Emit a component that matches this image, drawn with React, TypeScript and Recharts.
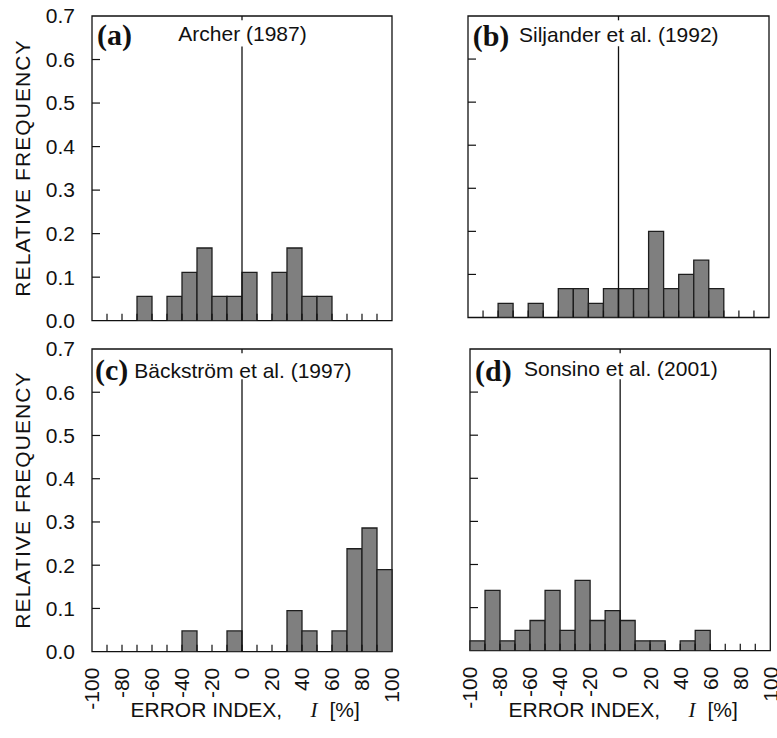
import { BarChart, Bar, XAxis, YAxis, ReferenceArea, ReferenceLine } from 'recharts'

// bin centres of the 10 % wide classes, -100 .. 100
const binCenters = [-95, -85, -75, -65, -55, -45, -35, -25, -15, -5, 5, 15, 25, 35, 45, 55, 65, 75, 85, 95]
const xTicks = [-100, -90, -80, -70, -60, -50, -40, -30, -20, -10, 0, 10, 20, 30, 40, 50, 60, 70, 80, 90, 100]
const yTicks = [0, 0.1, 0.2, 0.3, 0.4, 0.5, 0.6, 0.7]

// relative frequency per bin
const archer = [0, 0, 0, 0.056, 0, 0.056, 0.111, 0.167, 0.056, 0.056, 0.111, 0, 0.111, 0.167, 0.056, 0.056, 0, 0, 0, 0]
const siljander = [0, 0, 0.033, 0, 0.033, 0, 0.067, 0.067, 0.033, 0.067, 0.067, 0.067, 0.2, 0.067, 0.1, 0.133, 0.067, 0, 0, 0]
const backstrom = [0, 0, 0, 0, 0, 0, 0.048, 0, 0, 0.048, 0, 0, 0, 0.095, 0.048, 0, 0.048, 0.238, 0.286, 0.19]
const sonsino = [0.023, 0.14, 0.023, 0.047, 0.07, 0.14, 0.047, 0.163, 0.07, 0.093, 0.07, 0.023, 0.023, 0, 0.023, 0.047, 0, 0, 0, 0]

const SANS = "'Liberation Sans', Arial, sans-serif"
const SERIF = "'Liberation Serif', 'Times New Roman', serif"
const INK = '#111'

const ML = 90
const MT = 30
const MR = 12
const MB = 70

interface Box {
  left: number
  top: number
  width: number
  height: number
}

function XTick(props: any) {
  const { x, y, payload, showLabel } = props
  const v = payload.value
  const ly = y + 16
  return (
    <g>
      {v > -100 && v < 100 && <line x1={x} y1={y} x2={x} y2={y - 7} stroke={INK} strokeWidth={1.2} />}
      {showLabel && v % 20 === 0 && (
        <text
          x={x}
          y={ly}
          dy="0.35em"
          transform={`rotate(-90 ${x} ${ly})`}
          textAnchor="end"
          fontSize={21}
          fontFamily={SANS}
          fill={INK}
        >
          {v}
        </text>
      )}
    </g>
  )
}

function YTick(props: any) {
  const { x, y, payload, showLabel } = props
  const v = payload.value
  return (
    <g>
      {v > 0.05 && v < 0.65 && <line x1={x} y1={y} x2={x + 8} y2={y} stroke={INK} strokeWidth={1.2} />}
      {showLabel && (
        <text x={x - 17} y={y} dy="0.35em" textAnchor="end" fontSize={21} fontFamily={SANS} fill={INK}>
          {v.toFixed(1)}
        </text>
      )}
    </g>
  )
}

function Panel({ values, box, showY, showX }: { values: number[]; box: Box; showY: boolean; showX: boolean }) {
  const data = binCenters.map((b, i) => ({ bin: b, freq: values[i] }))
  return (
    <div style={{ position: 'absolute', left: box.left - ML, top: box.top - MT }}>
      <BarChart
        width={box.width + ML + MR}
        height={box.height + MT + MB}
        data={data}
        margin={{ top: MT, left: ML - 1, right: MR, bottom: MB - 1 }}
        barCategoryGap={0}
        barGap={0}
      >
        <XAxis
          xAxisId="num"
          dataKey="bin"
          type="number"
          domain={[-100, 100]}
          allowDataOverflow
          ticks={xTicks}
          interval={0}
          height={1}
          tickSize={0}
          tickMargin={0}
          tickLine={false}
          axisLine={false}
          tick={(p: any) => <XTick {...p} showLabel={showX} />}
        />
        <XAxis xAxisId="bin" dataKey="bin" type="category" height={0} hide />
        <YAxis
          type="number"
          domain={[0, 0.7]}
          allowDataOverflow
          ticks={yTicks}
          interval={0}
          width={1}
          tickSize={0}
          tickMargin={0}
          tickLine={false}
          axisLine={false}
          tick={(p: any) => <YTick {...p} showLabel={showY} />}
        />
        <ReferenceArea xAxisId="num" x1={-100} x2={100} y1={0} y2={0.7} fill="none" stroke={INK} strokeWidth={1.3} ifOverflow="visible" />
        <Bar xAxisId="bin" dataKey="freq" fill="#7f7f7f" stroke="#1e1e1e" strokeWidth={1.3} isAnimationActive={false} />
        <ReferenceLine xAxisId="num" segment={[{ x: 0, y: 0 }, { x: 0, y: 0.63 }]} stroke={INK} strokeWidth={1.3} />
        <ReferenceLine xAxisId="num" segment={[{ x: 0, y: 0.7 }, { x: 0, y: 0.69 }]} stroke={INK} strokeWidth={1.3} />
      </BarChart>
    </div>
  )
}

const boxA: Box = { left: 92, top: 16.3, width: 300, height: 304.7 }
const boxB: Box = { left: 468.3, top: 15.8, width: 301, height: 301.5 }
const boxC: Box = { left: 92.3, top: 349, width: 300, height: 302.7 }
const boxD: Box = { left: 470, top: 349, width: 300.3, height: 301.7 }

function ErrorTitle({ cx }: { cx: number }) {
  const x0 = cx - 111.5
  return (
    <text y={716.5} fontSize={21} fontFamily={SANS} fill={INK}>
      <tspan x={x0}>ERROR INDEX,</tspan>
      <tspan x={x0 + 180} fontFamily={SERIF} fontStyle="italic">I</tspan>
      <tspan x={x0 + 199}>[%]</tspan>
    </text>
  )
}

function FreqTitle({ cy }: { cy: number }) {
  return (
    <text
      x={22.5}
      y={cy}
      dy="0.35em"
      transform={`rotate(-90 22.5 ${cy})`}
      textAnchor="middle"
      fontSize={21}
      letterSpacing={1.1}
      fontFamily={SANS}
      fill={INK}
    >
      RELATIVE FREQUENCY
    </text>
  )
}

export default function App() {
  return (
    <div style={{ position: 'absolute', left: 0, top: 0, width: 777, height: 738, background: '#fff', overflow: 'hidden' }}>
      <Panel values={archer} box={boxA} showY showX={false} />
      <Panel values={siljander} box={boxB} showY={false} showX={false} />
      <Panel values={backstrom} box={boxC} showY showX />
      <Panel values={sonsino} box={boxD} showY={false} showX />
      <svg width={777} height={738} style={{ position: 'absolute', left: 0, top: 0, pointerEvents: 'none' }}>
        <FreqTitle cy={168} />
        <FreqTitle cy={500} />
        <ErrorTitle cx={242} />
        <ErrorTitle cx={620} />

        <text x={97} y={44.5} fontSize={30} fontWeight="bold" fontFamily={SERIF} fill={INK}>(a)</text>
        <text x={178.3} y={41} fontSize={21} fontFamily={SANS} fill={INK}>Archer (1987)</text>

        <text x={472.7} y={45.7} fontSize={30} fontWeight="bold" fontFamily={SERIF} fill={INK}>(b)</text>
        <text x={519} y={41.7} fontSize={21} fontFamily={SANS} fill={INK}>Siljander et al. (1992)</text>

        <text x={95} y={380} fontSize={30} fontWeight="bold" fontFamily={SERIF} fill={INK}>(c)</text>
        <text x={134.3} y={378.3} fontSize={21} fontFamily={SANS} fill={INK}>Bäckström et al. (1997)</text>

        <text x={475} y={380.5} fontSize={30} fontWeight="bold" fontFamily={SERIF} fill={INK}>(d)</text>
        <text x={524} y={376} fontSize={21} fontFamily={SANS} fill={INK}>Sonsino et al. (2001)</text>
      </svg>
    </div>
  )
}
